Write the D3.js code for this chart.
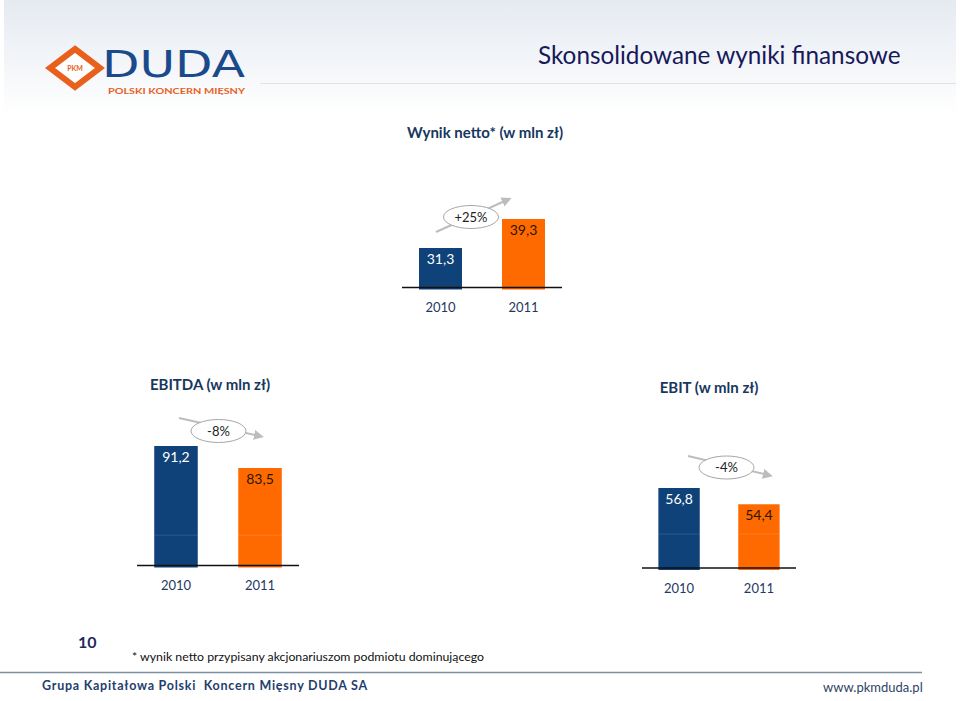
<!DOCTYPE html>
<html><head><meta charset="utf-8">
<script src="https://cdn.jsdelivr.net/npm/d3@7"></script>
<style>
html,body{margin:0;padding:0;background:#fff;}
svg{display:block;font-family:Lato,"Open Sans",sans-serif;}
</style></head>
<body>
<svg id="c" width="960" height="701"></svg>
<script>
// ---- data ----
const years = ["2010", "2011"];
const netValues = [31.3, 39.3];
const ebitdaValues = [91.2, 83.5];
const ebitValues = [56.8, 54.4];
const changeLabels = ["+25%", "-8%", "-4%"];
const chartTitles = ["Wynik netto* (w mln zł)", "EBITDA (w mln zł)", "EBIT (w mln zł)"];

const blue = "#10427A", orange = "#FF6A00", navy = "#1F3864";
const fmt = d3.formatLocale({decimal: ",", thousands: " ", grouping: [3], currency: ["", ""]}).format(".1f");

const svg = d3.select("#c");

// header background gradient
const defs = svg.append("defs");
const g0 = defs.append("linearGradient").attr("id", "hdr").attr("x1", 0).attr("y1", 0).attr("x2", 0).attr("y2", 1);
g0.append("stop").attr("offset", "0%").attr("stop-color", "#E5EAF1");
g0.append("stop").attr("offset", "100%").attr("stop-color", "#FFFFFF");
svg.append("rect").attr("x", 4).attr("y", 0).attr("width", 952).attr("height", 115).attr("fill", "url(#hdr)");

defs.append("marker").attr("id", "arr").attr("viewBox", "0 0 10 10").attr("refX", 5).attr("refY", 5)
  .attr("markerWidth", 5).attr("markerHeight", 5).attr("orient", "auto")
  .append("path").attr("d", "M0,0 L10,5 L0,10 Z").attr("fill", "#BDBDBD");

// logo
const logo = svg.append("g");
logo.append("path").attr("d", "M75,49 L100,68 L75,87 L50,68 Z")
  .attr("fill", "#fff").attr("stroke", "#E8601C").attr("stroke-width", 6).attr("stroke-linejoin", "miter");
logo.append("text").attr("x", 75).attr("y", 70.5).attr("text-anchor", "middle").attr("font-size", 7).attr("font-weight", 700)
  .attr("fill", "#E8601C").text("PKM");
logo.append("text").attr("x", 102).attr("y", 76.5).attr("font-size", 37).attr("font-weight", 400)
  .attr("font-family", "'DejaVu Sans',sans-serif").attr("fill", "#1B4A8C").attr("textLength", 143).attr("lengthAdjust", "spacingAndGlyphs").text("DUDA");
logo.append("text").attr("x", 108).attr("y", 93.5).attr("font-size", 8).attr("font-weight", 700)
  .attr("fill", "#E8601C").attr("textLength", 137).attr("lengthAdjust", "spacingAndGlyphs").text("POLSKI KONCERN MIĘSNY");
svg.append("line").attr("x1", 260).attr("x2", 956).attr("y1", 83.5).attr("y2", 83.5).attr("stroke", "#DDE3EA").attr("stroke-width", 1);

svg.append("text").attr("x", 538).attr("y", 64).attr("font-size", 24.3).attr("fill", "#16195A").text("Skonsolidowane wyniki finansowe");

// charts
const charts = [
  {values: netValues, title: chartTitles[0], change: changeLabels[0], x0: 402, x1: 562, base: 287.5, dom: [20.4, 39.3], top: 219,
   titleX: 485, titleY: 138, ell: [-11, -2], arrS: [-35, 15], arrE: [36, -17], grid: null, yearDy: 24},
  {values: ebitdaValues, title: chartTitles[1], change: changeLabels[1], x0: 137, x1: 299, base: 565.5, dom: [49.4, 91.2], top: 446,
   titleX: 210, titleY: 390, ell: [0.5, -15], arrS: [-39.5, -13], arrE: [40.5, 5], grid: 60, yearDy: 24},
  {values: ebitValues, title: chartTitles[2], change: changeLabels[2], x0: 642, x1: 796, base: 568, dom: [45, 56.8], top: 488,
   titleX: 709, titleY: 393, ell: [7.5, -20.5], arrS: [-38.5, -11.5], arrE: [41.5, 7.5], grid: 50, yearDy: 25}
];

charts.forEach(c => {
  const x = d3.scaleBand().domain(years).range([c.x0, c.x1]).paddingInner(0.482).paddingOuter(0.205);
  const y = d3.scaleLinear().domain(c.dom).range([c.base, c.top]);
  const g = svg.append("g");
  g.append("text").attr("x", c.titleX).attr("y", c.titleY).attr("text-anchor", "middle")
    .attr("font-size", 15).attr("font-weight", 700).attr("fill", "#17375E").text(c.title);

  g.selectAll("rect.bar").data(c.values).join("rect").attr("class", "bar")
    .attr("x", (d, i) => x(years[i])).attr("width", x.bandwidth())
    .attr("y", d => y(d)).attr("height", d => c.base + 2 - y(d))
    .attr("fill", (d, i) => i === 0 ? blue : orange);

  if (c.grid !== null) {
    g.selectAll("line.grid").data(c.values).join("line").attr("class", "grid")
      .attr("x1", (d, i) => x(years[i])).attr("x2", (d, i) => x(years[i]) + x.bandwidth())
      .attr("y1", y(c.grid)).attr("y2", y(c.grid))
      .attr("stroke", "#fff").attr("stroke-opacity", 0.12).attr("stroke-width", 1);
  }

  g.append("line").attr("x1", c.x0).attr("x2", c.x1).attr("y1", c.base).attr("y2", c.base)
    .attr("stroke", "#111").attr("stroke-width", 1.5);

  g.selectAll("text.val").data(c.values).join("text").attr("class", "val")
    .attr("x", (d, i) => x(years[i]) + x.bandwidth() / 2).attr("y", d => y(d) + 16)
    .attr("text-anchor", "middle").attr("font-size", 14)
    .attr("fill", (d, i) => i === 0 ? "#fff" : "#2A1500").text(d => fmt(d));

  g.selectAll("text.yr").data(years).join("text").attr("class", "yr")
    .attr("x", d => x(d) + x.bandwidth() / 2).attr("y", c.base + c.yearDy)
    .attr("text-anchor", "middle").attr("font-size", 13).attr("fill", navy).text(d => d);

  // change annotation
  const cx = (x(years[0]) + x(years[1]) + x.bandwidth()) / 2 + c.ell[0];
  const cy = y(d3.max(c.values)) + c.ell[1];
  g.append("line").attr("x1", cx + c.arrS[0]).attr("y1", cy + c.arrS[1])
    .attr("x2", cx + c.arrE[0]).attr("y2", cy + c.arrE[1])
    .attr("stroke", "#BDBDBD").attr("stroke-width", 2).attr("marker-end", "url(#arr)");
  g.append("ellipse").attr("cx", cx).attr("cy", cy).attr("rx", 27.5).attr("ry", 11.5)
    .attr("fill", "#fff").attr("stroke", "#A6A6A6").attr("stroke-width", 1);
  g.append("text").attr("x", cx).attr("y", cy + 4.5).attr("text-anchor", "middle")
    .attr("font-size", 13).attr("fill", "#222").text(c.change);
});

// footer
svg.append("text").attr("x", 78).attr("y", 648).attr("font-size", 16).attr("font-weight", 700).attr("fill", "#1F2A5C").text("10");
svg.append("text").attr("x", 132).attr("y", 661).attr("font-size", 12.3).attr("fill", "#111")
  .text("* wynik netto przypisany akcjonariuszom podmiotu dominującego");
svg.append("line").attr("x1", 0).attr("x2", 922).attr("y1", 672.5).attr("y2", 672.5).attr("stroke", "#7D8FA3").attr("stroke-width", 1.5);
svg.append("text").attr("x", 42).attr("y", 690).attr("font-size", 12.5).attr("font-weight", 700).attr("fill", "#1F3E6E")
  .attr("letter-spacing", 0.75).style("white-space", "pre").text("Grupa Kapitałowa Polski  Koncern Mięsny DUDA SA");
svg.append("text").attr("x", 823).attr("y", 692).attr("font-size", 13).attr("fill", "#2E4466").text("www.pkmduda.pl");
</script>
</body></html>
